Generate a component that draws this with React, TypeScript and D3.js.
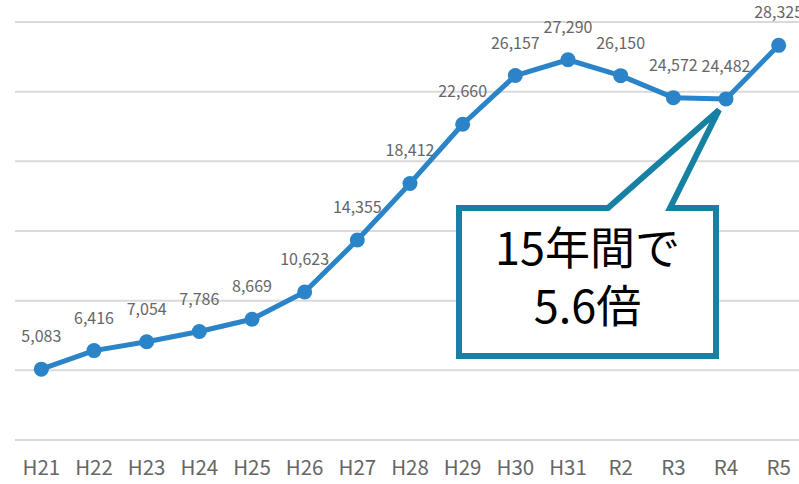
import * as d3 from "d3";
import { useEffect, useRef } from "react";

const categories = ["H21", "H22", "H23", "H24", "H25", "H26", "H27", "H28", "H29", "H30", "H31", "R2", "R3", "R4", "R5"];
const values = [5083, 6416, 7054, 7786, 8669, 10623, 14355, 18412, 22660, 26157, 27290, 26150, 24572, 24482, 28325];
const yTicks = [0, 5000, 10000, 15000, 20000, 25000, 30000];
const calloutLines = ["15年間で", "5.6倍"];

const W = 799;
const H = 484;
const font = "'Noto Sans CJK JP', 'Noto Sans', sans-serif";

export default function App() {
  const ref = useRef<SVGSVGElement>(null);

  useEffect(() => {
    const svg = d3.select(ref.current);
    svg.selectAll("*").remove();

    const x = d3.scalePoint<string>().domain(categories).range([15, 805]).padding(0.5);
    const y = d3.scaleLinear().domain([0, 30000]).range([440, 22]);

    // grid
    svg
      .append("g")
      .selectAll("line")
      .data(yTicks)
      .enter()
      .append("line")
      .attr("x1", 15)
      .attr("x2", W)
      .attr("y1", d => y(d))
      .attr("y2", d => y(d))
      .attr("stroke", "#d9d9d9")
      .attr("stroke-width", 2);

    // x labels
    svg
      .append("g")
      .selectAll("text")
      .data(categories)
      .enter()
      .append("text")
      .attr("x", d => x(d) as number)
      .attr("y", 475)
      .attr("text-anchor", "middle")
      .attr("font-family", font)
      .attr("font-size", 20.5)
      .attr("fill", "#666")
      .text(d => d);

    // line
    const line = d3
      .line<number>()
      .x((d, i) => x(categories[i]) as number)
      .y(d => y(d));
    svg
      .append("path")
      .datum(values)
      .attr("d", line)
      .attr("fill", "none")
      .attr("stroke", "#2b84c8")
      .attr("stroke-width", 5)
      .attr("stroke-linejoin", "round");

    svg
      .append("g")
      .selectAll("circle")
      .data(values)
      .enter()
      .append("circle")
      .attr("cx", (d, i) => x(categories[i]) as number)
      .attr("cy", d => y(d))
      .attr("r", 7.5)
      .attr("fill", "#2b84c8");

    // data labels
    svg
      .append("g")
      .selectAll("text")
      .data(values)
      .enter()
      .append("text")
      .attr("x", (d, i) => x(categories[i]) as number)
      .attr("y", d => y(d) - 27)
      .attr("text-anchor", "middle")
      .attr("font-family", font)
      .attr("font-size", 16)
      .attr("fill", "#666")
      .text(d => d3.format(",")(d));

    // callout
    const tip = [x("R4") as number - 7, y(24482) + 11];
    const left = 459, right = 716, top = 208, bottom = 356;
    const path = [
      [left, top],
      [608, top],
      tip,
      [670, top],
      [right, top],
      [right, bottom],
      [left, bottom]
    ];
    svg
      .append("path")
      .attr("d", "M" + path.map(p => p.join(",")).join("L") + "Z")
      .attr("fill", "#fff")
      .attr("stroke", "#1781a4")
      .attr("stroke-width", 6)
      .attr("stroke-linejoin", "miter");

    svg
      .append("g")
      .selectAll("text")
      .data(calloutLines)
      .enter()
      .append("text")
      .attr("x", (left + right) / 2)
      .attr("y", (d, i) => 265 + i * 58)
      .attr("text-anchor", "middle")
      .attr("font-family", font)
      .attr("font-size", 45)
      .attr("fill", "#000")
      .text(d => d);
  }, []);

  return (
    <svg
      ref={ref}
      width={W}
      height={H}
      style={{ position: "absolute", left: 0, top: 0, background: "#fff" }}
    />
  );
}
